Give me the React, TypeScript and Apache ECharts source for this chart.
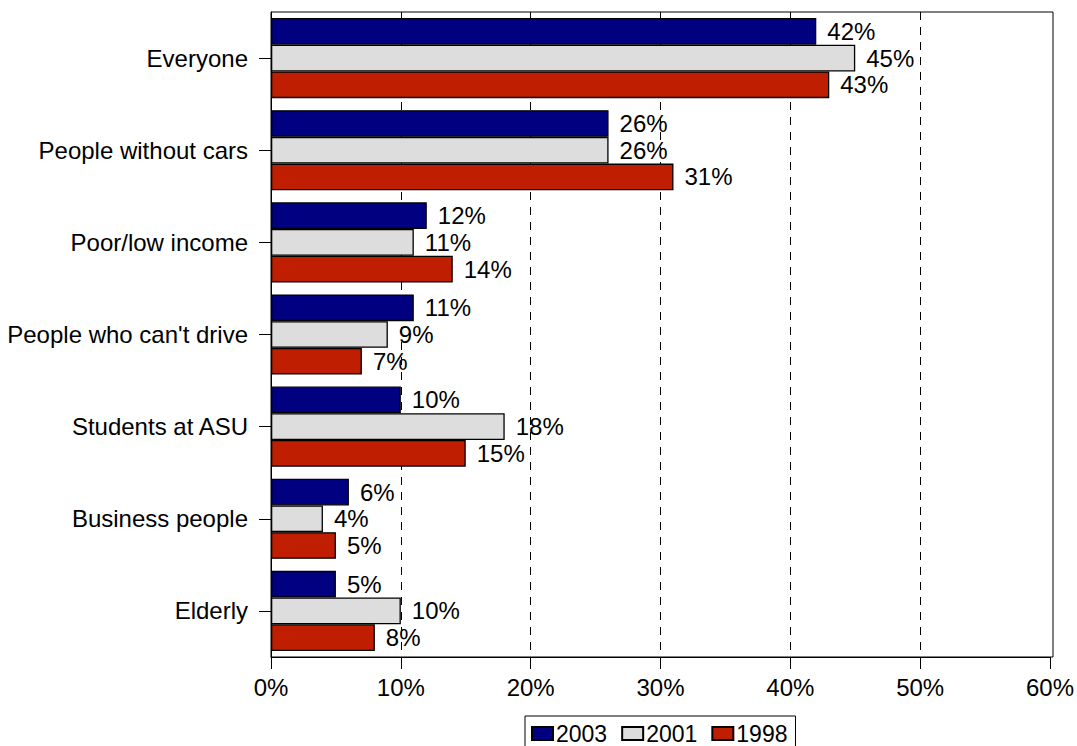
import React, { useEffect, useRef } from "react";
import * as echarts from "echarts";

const categories = [
  "Everyone",
  "People without cars",
  "Poor/low income",
  "People who can't drive",
  "Students at ASU",
  "Business people",
  "Elderly",
];
const values2003 = [42, 26, 12, 11, 10, 6, 5];
const values2001 = [45, 26, 11, 9, 18, 4, 10];
const values1998 = [43, 31, 14, 7, 15, 5, 8];
const xTicks = [0, 10, 20, 30, 40, 50, 60];

const FONT = "'Liberation Sans', Arial, Helvetica, sans-serif";
const FS = 24;

export default function App() {
  const ref = useRef<HTMLDivElement>(null);
  useEffect(() => {
    if (!ref.current) return;
    const chart = echarts.init(ref.current, null, { renderer: "svg" });
    const mk = (name: string, data: number[], color: string) => ({
      name,
      type: "bar",
      data,
      barGap: "0%",
      barCategoryGap: "13%",
      itemStyle: { color, borderColor: "#000", borderWidth: 1.3 },
      label: {
        show: true,
        position: "right",
        distance: 11,
        formatter: "{c}%",
        color: "#000",
        fontFamily: FONT,
        fontSize: FS,
      },
      emphasis: { disabled: true },
    });
    chart.setOption({
      animation: false,
      textStyle: { fontFamily: FONT },
      grid: { left: 271, top: 12, right: 24, bottom: 89, containLabel: false },
      legend: {
        data: ["2003", "2001", "1998"],
        top: 716,
        left: 525,
        orient: "horizontal",
        itemWidth: 21,
        itemHeight: 13,
        itemGap: 14,
        borderColor: "#000",
        borderWidth: 1,
        borderRadius: 0,
        padding: [6, 8, 20, 6],
        textStyle: { fontFamily: FONT, fontSize: 23, color: "#000", padding: [0, 0, 0, -2] },
        icon: "rect",
      },
      xAxis: {
        type: "value",
        min: 0,
        max: 60,
        interval: 10,
        axisLine: { show: true, lineStyle: { color: "#000", width: 1 } },
        axisTick: { show: true, length: 12, lineStyle: { color: "#000" } },
        axisLabel: {
          formatter: (v: number) => (xTicks.includes(v) ? v + "%" : ""),
          color: "#000",
          fontFamily: FONT,
          fontSize: FS,
          margin: 18,
        },
        splitLine: {
          show: true,
          showMinLine: false,
          showMaxLine: false,
          lineStyle: { color: "#000", type: [8, 7], width: 1 },
        },
      },
      yAxis: {
        type: "category",
        data: categories,
        inverse: true,
        axisLine: { show: true, lineStyle: { color: "#000" } },
        axisTick: { show: true, length: 12, alignWithLabel: true, lineStyle: { color: "#000" } },
        axisLabel: {
          color: "#000",
          fontFamily: FONT,
          fontSize: FS,
          margin: 23,
          interval: 0,
        },
      },
      graphic: [
        {
          type: "rect",
          shape: { x: 271, y: 12, width: 782, height: 645 },
          style: { fill: "none", stroke: "#000", lineWidth: 1 },
          silent: true,
          z: 100,
        },
      ],
      series: [
        mk("2003", values2003, "#000080"),
        mk("2001", values2001, "#DDDDDD"),
        mk("1998", values1998, "#C01E00"),
      ],
    });
    return () => chart.dispose();
  }, []);
  return (
    <div
      ref={ref}
      style={{ position: "absolute", left: 0, top: 0, width: 1077, height: 746 }}
    />
  );
}
